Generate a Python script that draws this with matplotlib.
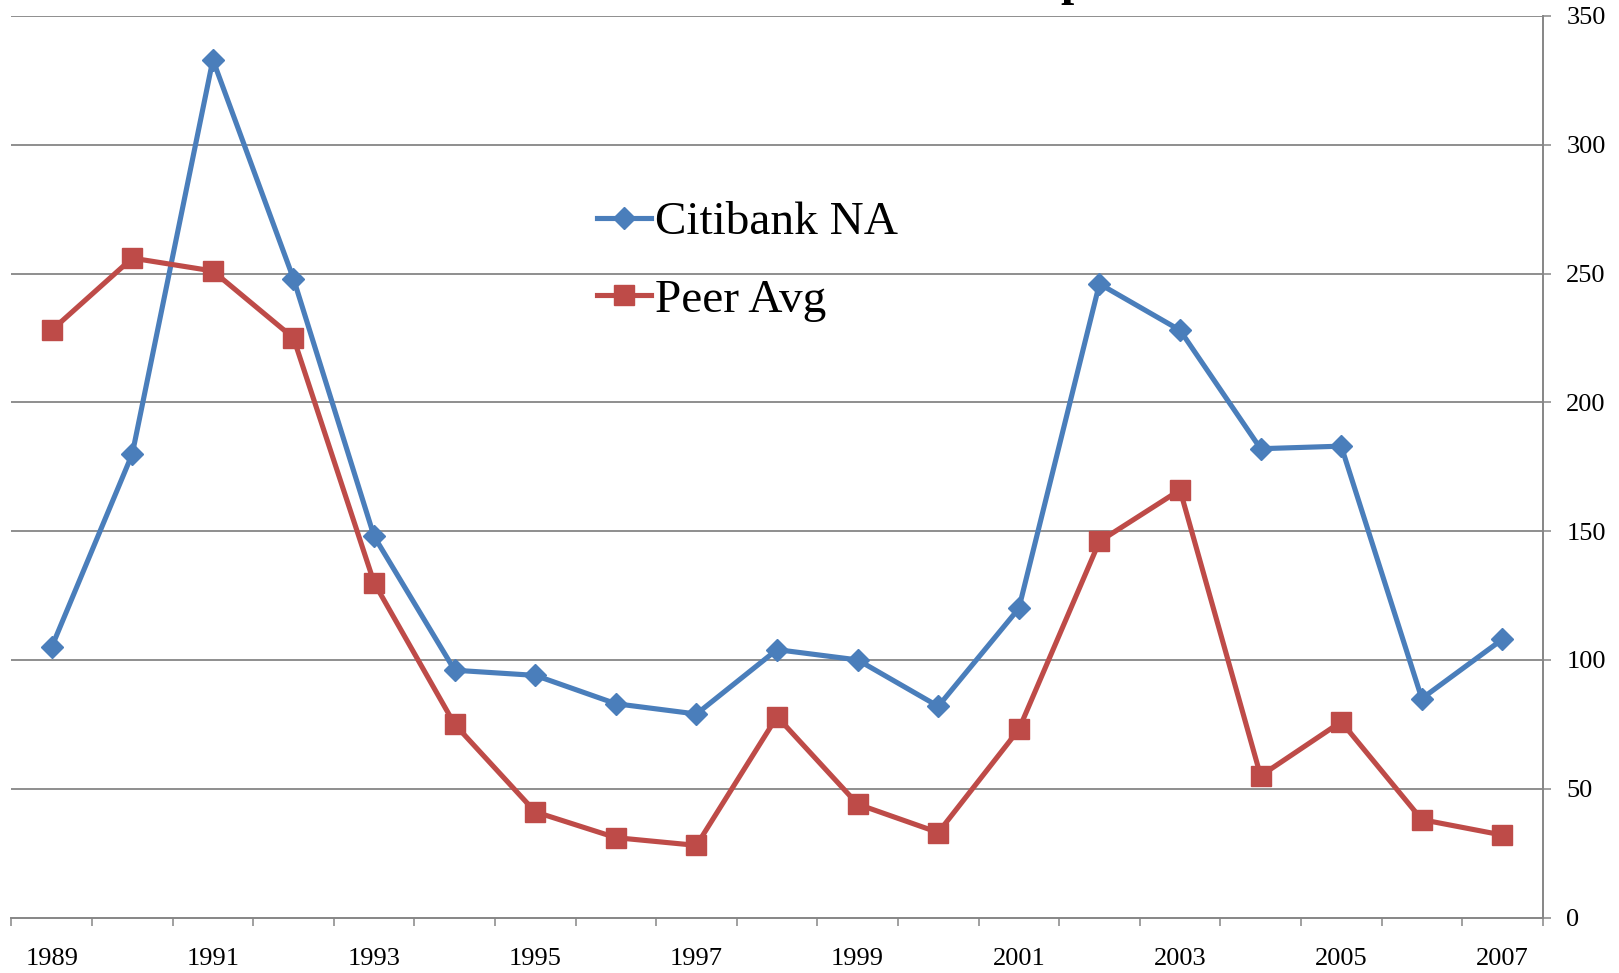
import matplotlib
matplotlib.use("Agg")
import matplotlib.pyplot as plt
from matplotlib.ticker import FixedLocator, NullFormatter

years = [1989, 1990, 1991, 1992, 1993, 1994, 1995, 1996, 1997, 1998,
         1999, 2000, 2001, 2002, 2003, 2004, 2005, 2006, 2007]
citibank = [105, 180, 333, 248, 148, 96, 94, 83, 79, 104,
            100, 82, 120, 246, 228, 182, 183, 85, 108]
peer_avg = [228, 256, 251, 225, 130, 75, 41, 31, 28, 78,
            44, 33, 73, 146, 166, 55, 76, 38, 32]
yticks = [0, 50, 100, 150, 200, 250, 300, 350]

BLUE = "#4A7EBB"
RED = "#BE4B48"
GRID = "#868686"
FONT = "Liberation Serif"

W, H = 1619, 973
fig = plt.figure(figsize=(W / 100, H / 100), dpi=100)
left, right, top, bottom = 11.4, 1542.7, 16.0, 917.5
ax = fig.add_axes([left / W, (H - bottom) / H, (right - left) / W, (bottom - top) / H])

x = list(range(len(years)))
ax.plot(x, citibank, color=BLUE, lw=3.7, marker="D", ms=11, mec=BLUE, mfc=BLUE,
        label="Citibank NA", solid_joinstyle="round", zorder=3)
ax.plot(x, peer_avg, color=RED, lw=3.7, marker="s", ms=14, mec=RED, mfc=RED,
        label="Peer Avg", solid_joinstyle="round", zorder=3)

ax.set_xlim(-0.5, len(years) - 0.5)
ax.set_ylim(0, 350)

# y axis on right
ax.yaxis.tick_right()
ax.set_yticks(yticks)
ax.set_yticklabels([str(v) for v in yticks], fontsize=19, family=FONT)
ax.tick_params(axis="y", which="major", length=6, width=1.1, color=GRID, pad=11)
for v in yticks[1:]:
    ax.axhline(v, color=GRID, lw=1.3, zorder=1)

# x axis: ticks at boundaries, labels every other year at centres
ax.xaxis.set_major_locator(FixedLocator([i - 0.5 for i in range(len(years) + 1)]))
ax.xaxis.set_major_formatter(NullFormatter())
ax.tick_params(axis="x", which="major", length=6, width=1.1, color=GRID, direction="out")
lab_pos = [i for i in x if i % 2 == 0]
ax.set_xticks(lab_pos, minor=True)
ax.set_xticklabels([str(years[i]) for i in lab_pos], minor=True, fontsize=19, family=FONT)
ax.tick_params(axis="x", which="minor", length=0, pad=22)

for s in ["left", "top"]:
    ax.spines[s].set_visible(False)
for s in ["bottom", "right"]:
    ax.spines[s].set_color(GRID)
    ax.spines[s].set_linewidth(1.4)

leg = ax.legend(loc="upper left", bbox_to_anchor=(597 / W, 1 - 201 / H),
                bbox_transform=fig.transFigure, frameon=False,
                prop={"family": FONT, "size": 34}, handlelength=1.15,
                handletextpad=0.08, labelspacing=0.73, borderpad=0, borderaxespad=0)

# partially visible title glyph at the very top (cut off in the original)
fig.text(1060 / W, 1 + 5 / H, "p", fontsize=34, fontweight="bold", family=FONT,
         ha="left", va="baseline")

fig.savefig("out.png", dpi=100)
